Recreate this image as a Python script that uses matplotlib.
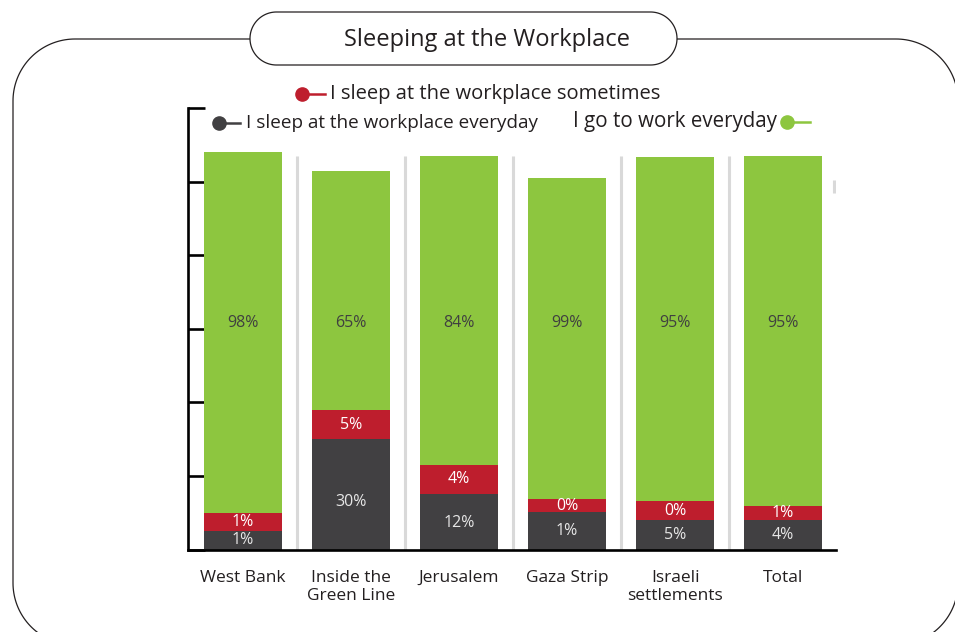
import matplotlib
matplotlib.use("Agg")
import matplotlib.pyplot as plt
import numpy as np

plt.rcParams['font.family'] = ['Open Sans', 'DejaVu Sans']

regions = ["West Bank", "Inside the\nGreen Line", "Jerusalem", "Gaza Strip",
           "Israeli\nsettlements", "Total"]

# percentages printed on the bars
everyday_pct = [1, 30, 12, 1, 5, 4]
sometimes_pct = [1, 5, 4, 0, 0, 1]
work_pct = [98, 65, 84, 99, 95, 95]

# segment heights as drawn in the original (not to scale with the labels)
everyday_h = [5.0, 30.0, 15.2, 10.2, 8.0, 8.0]
sometimes_h = [5.0, 7.9, 7.8, 3.5, 5.2, 3.8]
work_h = [98.1, 65.0, 84.0, 87.3, 93.5, 95.1]

DARK = '#414042'
RED = '#be1e2d'
GREEN = '#8dc63f'
SEP = '#d9d9d9'
INK = '#231f20'


def rounded_rect(x0, y0, x1, y1, r):
    # outline of a rounded box, y pointing down
    pts = []
    corners = [(x1 - r, y0 + r, -90, 0), (x1 - r, y1 - r, 0, 90),
               (x0 + r, y1 - r, 90, 180), (x0 + r, y0 + r, 180, 270)]
    for cx, cy, a0, a1 in corners:
        t = np.radians(np.linspace(a0, a1, 40))
        pts += list(zip(cx + r * np.cos(t), cy + r * np.sin(t)))
    return np.array(pts)


fig = plt.figure(figsize=(9.55, 6.32), dpi=100)

# overlay in pixel coords for the frame, title and legend
deco = fig.add_axes([0, 0, 1, 1])
deco.set_xlim(0, 955)
deco.set_ylim(632, 0)
deco.axis('off')

frame = rounded_rect(13, 39, 958, 645, 62)
deco.fill(frame[:, 0], frame[:, 1], facecolor='none', edgecolor=INK, lw=0.9)
cap = rounded_rect(250, 12, 677, 65, 26.5)
deco.fill(cap[:, 0], cap[:, 1], facecolor='white', edgecolor=INK, lw=0.9, zorder=3)
deco.text(487, 40, "Sleeping at the Workplace", ha='center', va='center',
          fontsize=17, color=INK, zorder=4)

# legend entries
deco.plot([301.5, 325], [94, 94], color=RED, lw=1.8)
deco.plot([301.5], [94], 'o', color=RED, ms=9.5)
deco.text(330, 94, "I sleep at the workplace sometimes", ha='left', va='center',
          fontsize=14.5, color=INK)

deco.plot([219, 240], [123, 123], color=DARK, lw=1.8)
deco.plot([219], [123], 'o', color=DARK, ms=9.5)
deco.text(246, 123, "I sleep at the workplace everyday", ha='left', va='center',
          fontsize=13.6, color=INK)

deco.plot([787, 810], [122, 122], color=GREEN, lw=1.8)
deco.plot([787], [122], 'o', color=GREEN, ms=9.5)
deco.text(777, 122, "I go to work everyday", ha='right', va='center',
          fontsize=14.8, color=INK)

# main chart
ax = fig.add_axes([187.5 / 955, (632 - 549.5) / 632, (836 - 187.5) / 955, (549.5 - 108) / 632])
ax.patch.set_visible(False)

x = np.arange(len(regions))
ev = np.array(everyday_h)
so = np.array(sometimes_h)
wo = np.array(work_h)
w = 0.722

ax.vlines(x[:-1] + 0.5, 0, 106.9, color=SEP, lw=2.2, zorder=1)
ax.vlines([5.47], 97, 100.4, color=SEP, lw=2.2, zorder=1)

ax.bar(x, ev, w, color=DARK, zorder=2)
ax.bar(x, so, w, bottom=ev, color=RED, zorder=2)
ax.bar(x, wo, w, bottom=ev + so, color=GREEN, zorder=2)

for i in range(len(regions)):
    ax.text(x[i], ev[i] / 2 - 0.1 * max(ev[i] - 10, 0), f"{everyday_pct[i]}%",
            ha='center', va='center', fontsize=11.5, color='#e6e6e6', zorder=3)
    ax.text(x[i], ev[i] + so[i] / 2, f"{sometimes_pct[i]}%", ha='center', va='center',
            fontsize=11.5, color='white', zorder=3)
    ax.text(x[i], 61.5, f"{work_pct[i]}%", ha='center', va='center',
            fontsize=11.5, color='#404040', zorder=3)

ax.set_xlim(-0.514, 5.49)
ax.set_ylim(0, 120.05)
ax.set_yticks(np.arange(0, 121, 20))
ax.tick_params(axis='y', direction='in', length=12, width=1.9, labelleft=False, color='black')
ax.set_xticks(x)
ax.set_xticklabels(regions, fontsize=12.5, color=INK, linespacing=1.15)
ax.tick_params(axis='x', length=0, pad=15)

for s in ['top', 'right']:
    ax.spines[s].set_visible(False)
for s in ['left', 'bottom']:
    ax.spines[s].set_linewidth(1.9)
    ax.spines[s].set_color('black')

fig.savefig("out.png", dpi=100)
